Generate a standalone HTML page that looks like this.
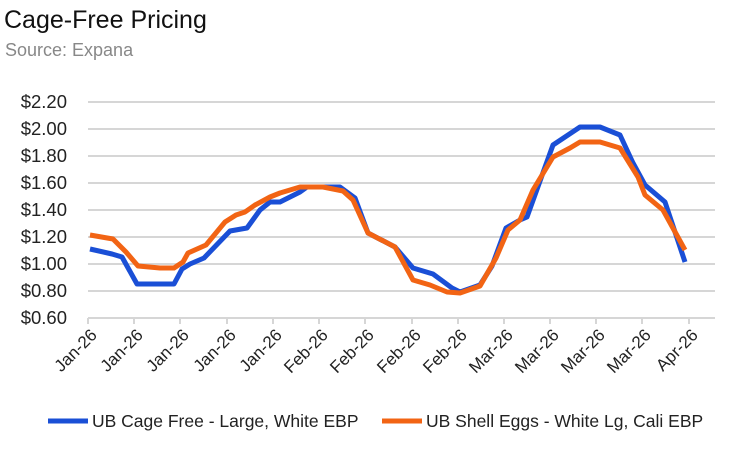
<!DOCTYPE html>
<html><head><style>
body{margin:0;background:#fff;font-family:"Liberation Sans",sans-serif;}
</style></head><body>
<svg width="750" height="451" xmlns="http://www.w3.org/2000/svg" font-family="Liberation Sans, sans-serif">
<text x="4" y="28" font-size="25" fill="#111">Cage-Free Pricing</text>
<text x="5" y="56" font-size="18" fill="#888">Source: Expana</text>
<g stroke="#d6d6d6" stroke-width="2">
<line x1="88" x2="715" y1="102" y2="102"/><line x1="88" x2="715" y1="129" y2="129"/>
<line x1="88" x2="715" y1="156" y2="156"/><line x1="88" x2="715" y1="183" y2="183"/>
<line x1="88" x2="715" y1="210" y2="210"/><line x1="88" x2="715" y1="237" y2="237"/>
<line x1="88" x2="715" y1="264" y2="264"/><line x1="88" x2="715" y1="291" y2="291"/>
<line x1="88" x2="715" y1="318" y2="318"/>
<line x1="88" x2="88" y1="318" y2="324"/><line x1="134" x2="134" y1="318" y2="324"/><line x1="180" x2="180" y1="318" y2="324"/><line x1="227" x2="227" y1="318" y2="324"/><line x1="273" x2="273" y1="318" y2="324"/><line x1="319" x2="319" y1="318" y2="324"/><line x1="365" x2="365" y1="318" y2="324"/><line x1="412" x2="412" y1="318" y2="324"/><line x1="458" x2="458" y1="318" y2="324"/><line x1="504" x2="504" y1="318" y2="324"/><line x1="550" x2="550" y1="318" y2="324"/><line x1="596" x2="596" y1="318" y2="324"/><line x1="642" x2="642" y1="318" y2="324"/><line x1="689" x2="689" y1="318" y2="324"/>
</g>
<g font-size="18.5" fill="#222" text-anchor="end">
<text x="67" y="108">$2.20</text><text x="67" y="135">$2.00</text><text x="67" y="162">$1.80</text><text x="67" y="189">$1.60</text><text x="67" y="216">$1.40</text><text x="67" y="243">$1.20</text><text x="67" y="270">$1.00</text><text x="67" y="297">$0.80</text><text x="67" y="324">$0.60</text>
</g>
<g font-size="17" fill="#222" text-anchor="end">
<text transform="translate(98,336) rotate(-45)">Jan-26</text>
<text transform="translate(144,336) rotate(-45)">Jan-26</text>
<text transform="translate(190,336) rotate(-45)">Jan-26</text>
<text transform="translate(237,336) rotate(-45)">Jan-26</text>
<text transform="translate(283,336) rotate(-45)">Jan-26</text>
<text transform="translate(329,336) rotate(-45)">Feb-26</text>
<text transform="translate(375,336) rotate(-45)">Feb-26</text>
<text transform="translate(422,336) rotate(-45)">Feb-26</text>
<text transform="translate(468,336) rotate(-45)">Feb-26</text>
<text transform="translate(514,336) rotate(-45)">Mar-26</text>
<text transform="translate(560,336) rotate(-45)">Mar-26</text>
<text transform="translate(606,336) rotate(-45)">Mar-26</text>
<text transform="translate(652,336) rotate(-45)">Mar-26</text>
<text transform="translate(699,336) rotate(-45)">Apr-26</text>
</g>
<polyline fill="none" stroke="#1a4fd6" stroke-width="5" stroke-linejoin="round" points="90,249 112,254 122,257 137,284 174,284 182,269 190,264 204,258 230,231 247,228 260,210 270,202 280,202 300,192 307,187 340,187 355,198 368,233 395,247 413,268 433,274 452,288 460,292 480,285 492,266 506,228 520,220 527,217 553,145 580,127 600,127 620,135 633,163 645,185 665,202 685,262"/>
<polyline fill="none" stroke="#f26414" stroke-width="5" stroke-linejoin="round" points="90,235 113,239 126,252 138,266 160,268 174,268 183,262 188,253 206,245 225,222 236,215 245,212 255,205 270,197 280,193 300,187 323,187 343,191 353,200 368,233 395,247 413,280 430,285 447,292 460,293 480,286 496,258 508,230 520,220 533,190 553,157 570,148 580,142 600,142 620,148 638,177 645,195 663,210 685,250"/>
<line x1="48" x2="88" y1="421" y2="421" stroke="#1a4fd6" stroke-width="5"/>
<text x="92" y="427" font-size="17.5" fill="#222">UB Cage Free - Large, White EBP</text>
<line x1="382" x2="422" y1="421" y2="421" stroke="#f26414" stroke-width="5"/>
<text x="426" y="427" font-size="17.5" fill="#222">UB Shell Eggs - White Lg, Cali EBP</text>
</svg>
</body></html>
